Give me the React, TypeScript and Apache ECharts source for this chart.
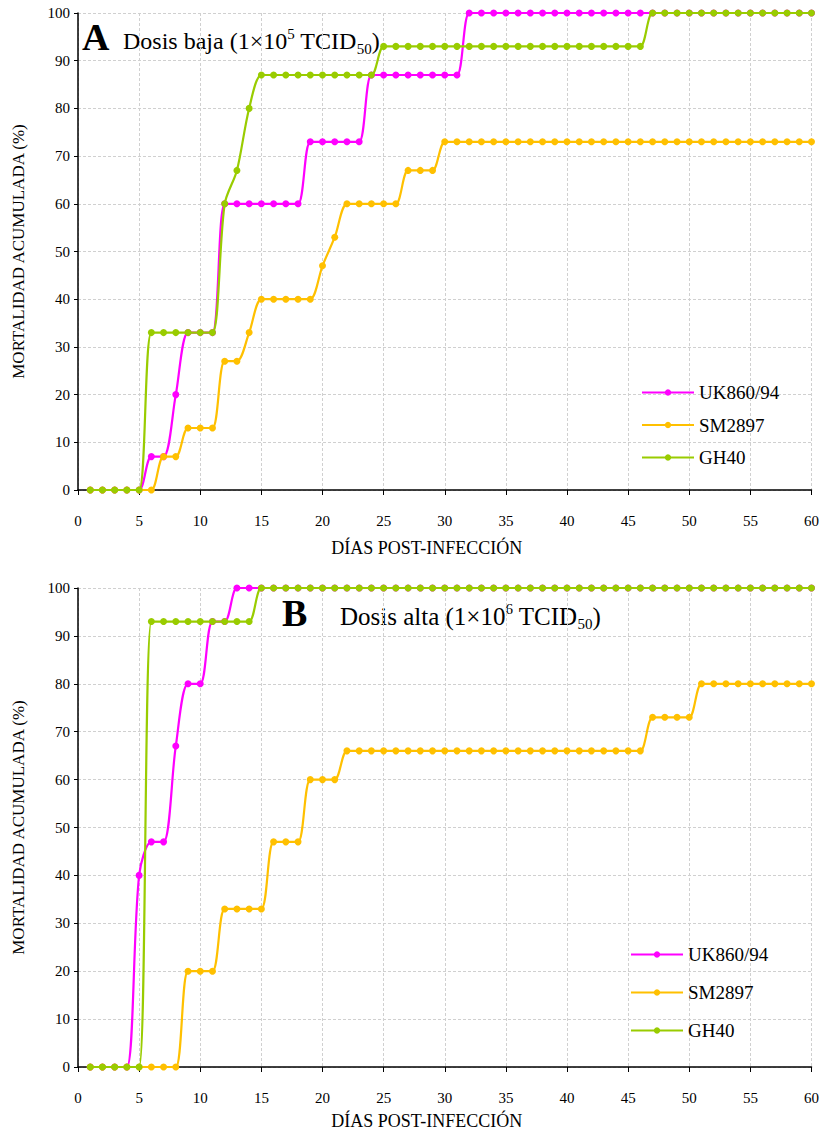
import React, { useEffect, useRef } from "react";
import * as echarts from "echarts";

const days = [1,2,3,4,5,6,7,8,9,10,11,12,13,14,15,16,17,18,19,20,21,22,23,24,25,26,27,28,29,30,31,32,33,34,35,36,37,38,39,40,41,42,43,44,45,46,47,48,49,50,51,52,53,54,55,56,57,58,59,60];

const seriesNames = ["UK860/94", "SM2897", "GH40"];
const colors = ["#FF00FF", "#FFC000", "#99CC00"];

// Panel A: low dose
const aUK = [0,0,0,0,0,7,7,20,33,33,33,60,60,60,60,60,60,60,73,73,73,73,73,87,87,87,87,87,87,87,87,100,100,100,100,100,100,100,100,100,100,100,100,100,100,100,100,100,100,100,100,100,100,100,100,100,100,100,100,100];
const aSM = [0,0,0,0,0,0,7,7,13,13,13,27,27,33,40,40,40,40,40,47,53,60,60,60,60,60,67,67,67,73,73,73,73,73,73,73,73,73,73,73,73,73,73,73,73,73,73,73,73,73,73,73,73,73,73,73,73,73,73,73];
const aGH = [0,0,0,0,0,33,33,33,33,33,33,60,67,80,87,87,87,87,87,87,87,87,87,87,93,93,93,93,93,93,93,93,93,93,93,93,93,93,93,93,93,93,93,93,93,93,100,100,100,100,100,100,100,100,100,100,100,100,100,100];

// Panel B: high dose
const bUK = [0,0,0,0,40,47,47,67,80,80,93,93,100,100,100,100,100,100,100,100,100,100,100,100,100,100,100,100,100,100,100,100,100,100,100,100,100,100,100,100,100,100,100,100,100,100,100,100,100,100,100,100,100,100,100,100,100,100,100,100];
const bSM = [0,0,0,0,0,0,0,0,20,20,20,33,33,33,33,47,47,47,60,60,60,66,66,66,66,66,66,66,66,66,66,66,66,66,66,66,66,66,66,66,66,66,66,66,66,66,73,73,73,73,80,80,80,80,80,80,80,80,80,80];
const bGH = [0,0,0,0,0,93,93,93,93,93,93,93,93,93,100,100,100,100,100,100,100,100,100,100,100,100,100,100,100,100,100,100,100,100,100,100,100,100,100,100,100,100,100,100,100,100,100,100,100,100,100,100,100,100,100,100,100,100,100,100];

const xTicks = [0, 5, 10, 15, 20, 25, 30, 35, 40, 45, 50, 55, 60];
const yTicks = [0, 10, 20, 30, 40, 50, 60, 70, 80, 90, 100];

const FONT = "'Liberation Serif', 'Times New Roman', serif";

function pairs(vals: number[]) {
  return days.map((d, i) => [d, vals[i]]);
}

export default function App() {
  const ref = useRef<HTMLDivElement>(null);
  useEffect(() => {
    document.body.style.margin = "0";
    const chart = echarts.init(ref.current!, null, { renderer: "svg" });
    const grids = [
      { left: 78, right: 7, top: 13, height: 477 },
      { left: 78, right: 7, top: 588, height: 479 },
    ];
    const xAxis = grids.map((_, gi) => ({
      type: "value",
      gridIndex: gi,
      min: xTicks[0],
      max: xTicks[xTicks.length - 1],
      interval: 5,
      name: "DÍAS POST-INFECCIÓN",
      nameLocation: "middle",
      nameGap: gi === 0 ? 49 : 45,
      nameTextStyle: { fontFamily: FONT, fontSize: 18, color: "#000", padding: [0, 36, 0, 0] },
      axisLine: { show: true, lineStyle: { color: "#000", width: 1.5 } },
      axisTick: { show: true, inside: false, length: 5, lineStyle: { color: "#000" } },
      axisLabel: { fontFamily: FONT, fontSize: 15, color: "#000", margin: 23 },
      splitLine: { show: true, lineStyle: { color: "#d0d0d0", type: [3, 2], width: 1 } },
    }));
    const yAxis = grids.map((_, gi) => ({
      type: "value",
      gridIndex: gi,
      min: yTicks[0],
      max: yTicks[yTicks.length - 1],
      interval: 10,
      name: "MORTALIDAD ACUMULADA (%)",
      nameLocation: "middle",
      nameRotate: 90,
      nameGap: 51,
      nameTextStyle: { fontFamily: FONT, fontSize: 17, color: "#000" },
      axisLine: { show: true, lineStyle: { color: "#000", width: 1.5 } },
      axisTick: { show: true, inside: false, length: 4, lineStyle: { color: "#000" } },
      axisLabel: { fontFamily: FONT, fontSize: 15, color: "#000", margin: 8 },
      splitLine: { show: true, lineStyle: { color: "#d0d0d0", type: [3, 2], width: 1 } },
    }));
    const panelData = [
      [aUK, aSM, aGH],
      [bUK, bSM, bGH],
    ];
    const series: any[] = [];
    panelData.forEach((set, gi) => {
      set.forEach((vals, si) => {
        series.push({
          type: "line",
          name: seriesNames[si],
          xAxisIndex: gi,
          yAxisIndex: gi,
          data: pairs(vals),
          smooth: 0.3,
          symbol: "circle",
          symbolSize: 7,
          showSymbol: true,
          color: colors[si],
          lineStyle: { width: 2.2, color: colors[si] },
          itemStyle: { color: colors[si] },
          z: 2 + si,
        });
      });
    });
    const legendCommon = {
      orient: "vertical",
      itemWidth: 52,
      itemHeight: 8,
      textStyle: { fontFamily: FONT, fontSize: 19, color: "#000" },
      data: seriesNames,
      selectedMode: false,
    };
    const richTitle = (fs: number) => ({
      t: { fontFamily: FONT, fontSize: fs, color: "#000", lineHeight: 30 },
      sup: { fontFamily: FONT, fontSize: 15, color: "#000", lineHeight: 18, verticalAlign: "top" },
      sub: { fontFamily: FONT, fontSize: 15, color: "#000", lineHeight: 16, verticalAlign: "bottom" },
    });
    const bigLetter = { fontFamily: FONT, fontSize: 38, fontWeight: "bold", fill: "#000" };
    chart.setOption({
      animation: false,
      backgroundColor: "#fff",
      textStyle: { fontFamily: FONT },
      grid: grids,
      xAxis,
      yAxis,
      series,
      legend: [
        { ...legendCommon, left: 636, top: 378, itemGap: 13.5 },
        { ...legendCommon, left: 625, top: 940, itemGap: 19 },
      ],
      graphic: [
        { type: "text", left: 82, top: 18, style: { text: "A", ...bigLetter } },
        {
          type: "text",
          left: 123,
          top: 26,
          style: {
            text: "{t|Dosis baja (1×10}{sup|5}{t| TCID}{sub|50}{t|)}",
            rich: richTitle(24),
          },
        },
        { type: "text", left: 282, top: 594, style: { text: "B", ...bigLetter } },
        {
          type: "text",
          left: 340,
          top: 601,
          style: {
            text: "{t|Dosis alta (1×10}{sup|6}{t| TCID}{sub|50}{t|)}",
            rich: richTitle(25),
          },
        },
      ],
    });
    return () => chart.dispose();
  }, []);
  return <div ref={ref} style={{ width: 822, height: 1133 }} />;
}
